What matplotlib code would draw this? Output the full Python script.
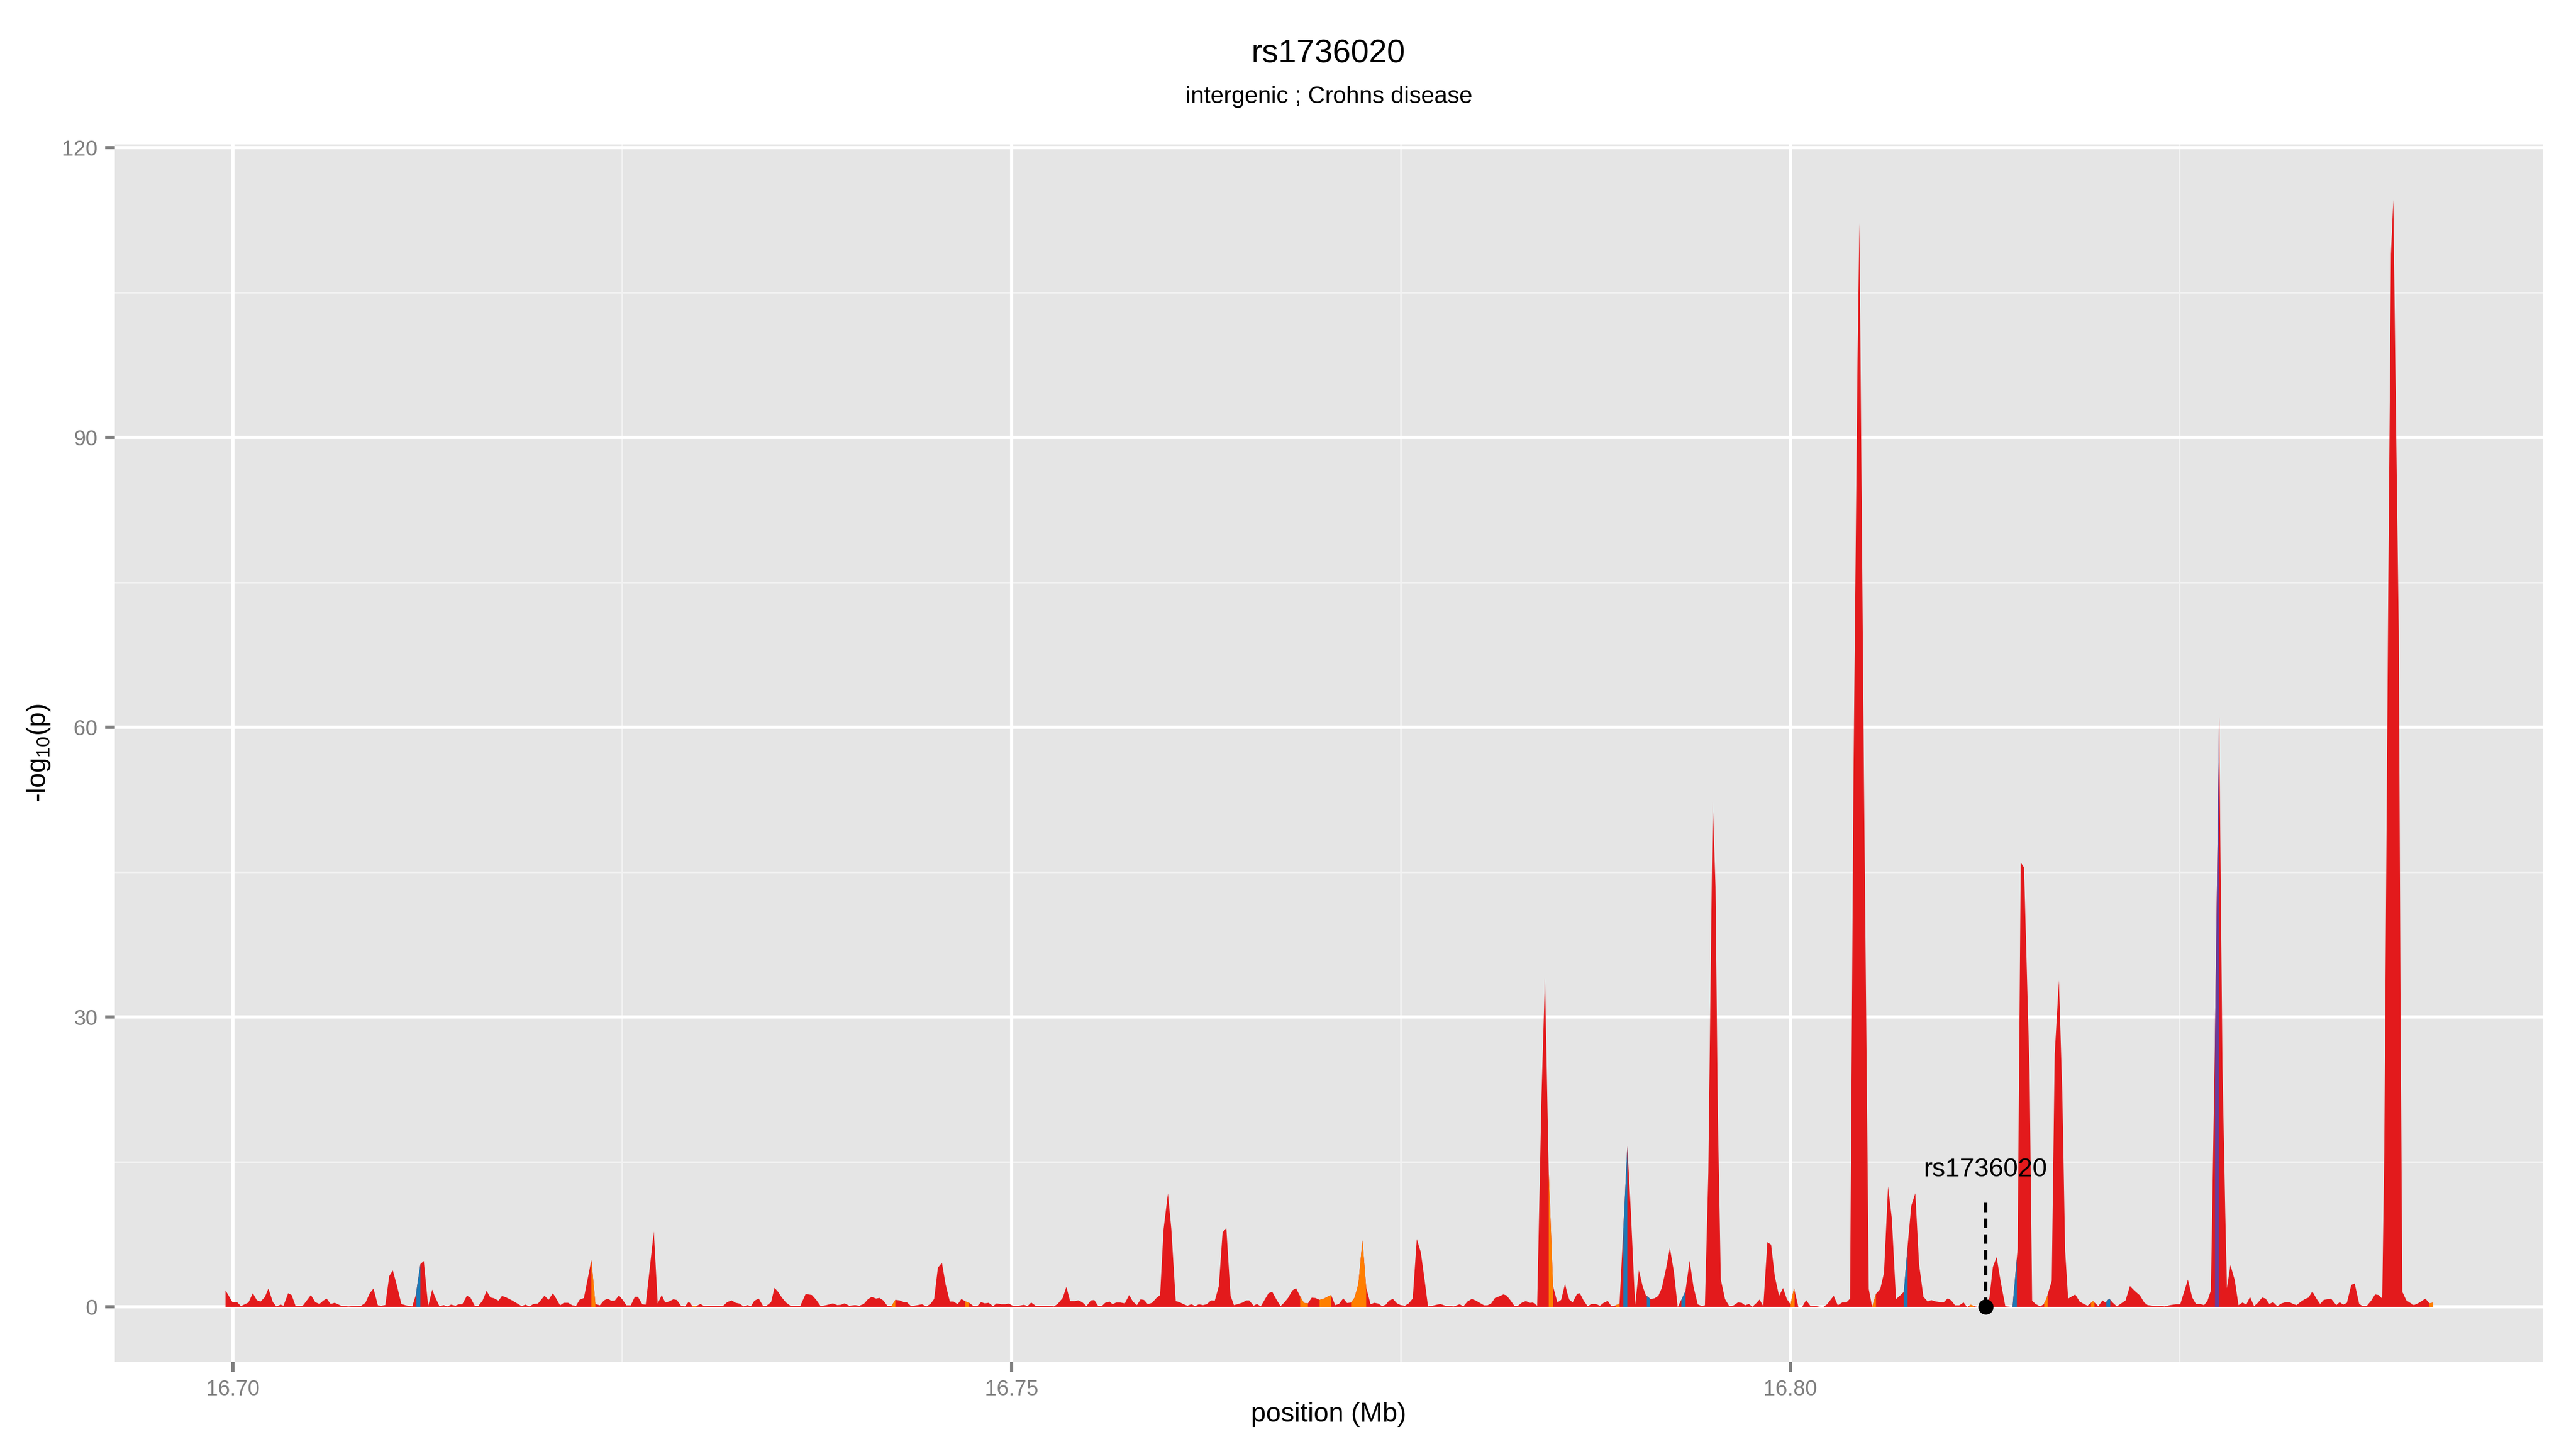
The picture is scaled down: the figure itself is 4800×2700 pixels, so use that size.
import numpy as np
import matplotlib
matplotlib.use('Agg')
import matplotlib.pyplot as plt

plt.rcParams['font.family'] = ['Liberation Sans', 'DejaVu Sans']
plt.rcParams['mathtext.fontset'] = 'custom'
plt.rcParams['mathtext.rm'] = 'Liberation Sans'
plt.rcParams['mathtext.it'] = 'Liberation Sans'

# --- data ---
title = "rs1736020"
subtitle = "intergenic ; Crohns disease"
lead_snp = "rs1736020"
lead_pos = 16.81255
lead_label_y = 14.2
lead_line_top = 11.4

# position (Mb) and -log10(p) of each SNP, left to right
position_mb = [
    16.69951, 16.69995, 16.70025, 16.70050, 16.70098, 16.70126, 16.70152, 16.70176, 16.70203, 16.70226,
    16.70255, 16.70277, 16.70305, 16.70323, 16.70353, 16.70375, 16.70401, 16.70434, 16.70449, 16.70499,
    16.70527, 16.70554, 16.70578, 16.70600, 16.70626, 16.70652, 16.70693, 16.70739, 16.70822, 16.70849,
    16.70877, 16.70901, 16.70929, 16.70951, 16.70977, 16.71002, 16.71025, 16.71052, 16.71080, 16.71108,
    16.71150, 16.71172, 16.71202, 16.71224, 16.71252, 16.71278, 16.71296, 16.71324, 16.71352, 16.71375,
    16.71399, 16.71427, 16.71449, 16.71471, 16.71501, 16.71523, 16.71551, 16.71575, 16.71601, 16.71627,
    16.71652, 16.71674, 16.71704, 16.71726, 16.71754, 16.71791, 16.71852, 16.71877, 16.71901, 16.71929,
    16.71957, 16.71999, 16.72025, 16.72053, 16.72077, 16.72099, 16.72123, 16.72151, 16.72178, 16.72202,
    16.72224, 16.72252, 16.72300, 16.72326, 16.72354, 16.72381, 16.72405, 16.72427, 16.72450, 16.72477,
    16.72501, 16.72525, 16.72553, 16.72579, 16.72599, 16.72627, 16.72649, 16.72701, 16.72726, 16.72752,
    16.72774,
    16.72797, 16.72827, 16.72849, 16.72877, 16.72901, 16.72926, 16.72950, 16.72974, 16.73000, 16.73024,
    16.73052, 16.73116, 16.73144, 16.73172, 16.73200, 16.73227, 16.73251, 16.73277, 16.73301, 16.73325,
    16.73347, 16.73375, 16.73403, 16.73425, 16.73454, 16.73476, 16.73499, 16.73523, 16.73550, 16.73578,
    16.73642, 16.73676, 16.73716, 16.73744, 16.73772, 16.73809, 16.73851, 16.73879, 16.73901, 16.73925,
    16.73956, 16.73993, 16.74021, 16.74049, 16.74076, 16.74100, 16.74128, 16.74150, 16.74174, 16.74200,
    16.74228, 16.74252, 16.74279, 16.74307, 16.74325, 16.74353, 16.74395, 16.74423, 16.74451, 16.74477,
    16.74501, 16.74525, 16.74551, 16.74575, 16.74602, 16.74626, 16.74652, 16.74676, 16.74704, 16.74726,
    16.74754, 16.74778, 16.74802, 16.74827, 16.74851, 16.74879, 16.74903, 16.74931, 16.74958, 16.74981,
    16.75005, 16.75045, 16.75078, 16.75101, 16.75124, 16.75152, 16.75230, 16.75270, 16.75294, 16.75326,
    16.75350, 16.75374, 16.75405, 16.75427, 16.75451, 16.75479, 16.75507, 16.75529, 16.75553, 16.75577,
    16.75599, 16.75627, 16.75647, 16.75669,
    16.75697, 16.75725, 16.75753, 16.75777, 16.75803, 16.75827, 16.75849, 16.75873, 16.75900, 16.75928,
    16.75952, 16.75974, 16.76002, 16.76024, 16.76052, 16.76076, 16.76103, 16.76127, 16.76153, 16.76177,
    16.76201, 16.76227, 16.76251, 16.76279, 16.76303, 16.76329, 16.76353, 16.76377, 16.76404, 16.76426,
    16.76454, 16.76482, 16.76504, 16.76524, 16.76552, 16.76574, 16.76598, 16.76626, 16.76648, 16.76672,
    16.76700, 16.76725, 16.76749, 16.76773, 16.76801, 16.76825, 16.76851, 16.76875, 16.76901, 16.76925,
    16.76949, 16.76976, 16.76998, 16.77026, 16.77050, 16.77076, 16.77100, 16.77128, 16.77152, 16.77178,
    16.77201, 16.77225, 16.77251, 16.77275, 16.77303, 16.77327, 16.77353, 16.77377, 16.77401, 16.77423,
    16.77447, 16.77473, 16.77497, 16.77524, 16.77548, 16.77574, 16.77600, 16.77626, 16.77648, 16.77672,
    16.77700, 16.77751, 16.77783, 16.77811, 16.77838, 16.77875, 16.77899, 16.77925, 16.77953, 16.77977,
    16.78004, 16.78032, 16.78054, 16.78078, 16.78102, 16.78128, 16.78156, 16.78176, 16.78202, 16.78226,
    16.78250, 16.78276, 16.78300, 16.78327, 16.78346, 16.78373, 16.78401, 16.78423, 16.78447, 16.78475,
    16.78503, 16.78527, 16.78552,
    16.78564, 16.78579, 16.78601, 16.78629, 16.78647, 16.78671, 16.78697, 16.78721, 16.78749, 16.78776,
    16.78800, 16.78826, 16.78850, 16.78878, 16.78902, 16.78924, 16.78952, 16.78974, 16.79002, 16.79026,
    16.79050, 16.79072, 16.79085, 16.79099, 16.79127, 16.79151, 16.79173, 16.79201, 16.79225, 16.79251,
    16.79275, 16.79302, 16.79325, 16.79352, 16.79376, 16.79404, 16.79428, 16.79450, 16.79472, 16.79500,
    16.79518, 16.79533, 16.79552, 16.79579, 16.79607, 16.79635, 16.79662, 16.79686, 16.79708, 16.79732,
    16.79755, 16.79782, 16.79801, 16.79825, 16.79851, 16.79875, 16.79899, 16.79926, 16.79952, 16.79976,
    16.80000, 16.80022, 16.80050, 16.80074, 16.80100, 16.80129, 16.80155, 16.80185, 16.80210, 16.80234,
    16.80277, 16.80303, 16.80332, 16.80358, 16.80382, 16.80404, 16.80430, 16.80442, 16.80471, 16.80502,
    16.80524, 16.80548, 16.80576, 16.80600, 16.80626, 16.80650, 16.80677, 16.80701, 16.80727, 16.80751,
    16.80775, 16.80801, 16.80825, 16.80853, 16.80880, 16.80904, 16.80932, 16.80958, 16.80982, 16.81010,
    16.81032, 16.81056, 16.81083, 16.81111, 16.81133, 16.81157, 16.81181, 16.81207, 16.81231, 16.81259,
    16.81277, 16.81299, 16.81323, 16.81351, 16.81379, 16.81425, 16.81458,
    16.81478, 16.81499, 16.81535, 16.81551, 16.81573, 16.81603, 16.81625, 16.81643, 16.81677, 16.81696,
    16.81723, 16.81745, 16.81763, 16.81782, 16.81828, 16.81856, 16.81883, 16.81907, 16.81942, 16.81976,
    16.82003, 16.82022, 16.82046, 16.82068, 16.82095, 16.82151, 16.82179, 16.82206, 16.82243, 16.82271,
    16.82293, 16.82326, 16.82354, 16.82382, 16.82400, 16.82437, 16.82474, 16.82502, 16.82551, 16.82579,
    16.82603, 16.82631, 16.82655, 16.82677, 16.82699, 16.82725, 16.82752, 16.82773, 16.82791, 16.82802,
    16.82824, 16.82852, 16.82876, 16.82902, 16.82926, 16.82950, 16.82976, 16.83000, 16.83028, 16.83050,
    16.83074, 16.83098, 16.83125, 16.83153, 16.83179, 16.83203, 16.83227, 16.83249, 16.83277, 16.83304,
    16.83326, 16.83350, 16.83378, 16.83400, 16.83424, 16.83448, 16.83470, 16.83504, 16.83526, 16.83548,
    16.83572, 16.83600, 16.83622, 16.83651, 16.83673, 16.83701, 16.83729, 16.83753, 16.83775, 16.83799,
    16.83812, 16.83838, 16.83855, 16.83870, 16.83885, 16.83905, 16.83917, 16.83928, 16.83954, 16.83978,
    16.84002, 16.84028, 16.84052, 16.84076, 16.84102, 16.84126,
]

log_p = [
    1.72, 0.50, 0.50, 0.09, 0.46, 1.43, 0.70, 0.56, 1.02, 1.91,
    0.50, 0.06, 0.24, 0.13, 1.43, 1.24, 0.09, 0.09, 0.17, 1.24,
    0.50, 0.31, 0.65, 0.87, 0.31, 0.43, 0.13, 0.06, 0.13, 0.43,
    1.43, 1.91, 0.17, 0.13, 0.20, 3.20, 3.79, 2.17, 0.31, 0.17,
    0.06, 1.20, 4.44, 4.76, 0.09, 1.80, 1.05, 0.09, 0.19, 0.06,
    0.24, 0.13, 0.28, 0.28, 1.17, 0.98, 0.13, 0.13, 0.65, 1.67,
    0.98, 0.91, 0.65, 1.15, 0.98, 0.68, 0.09, 0.24, 0.06, 0.31,
    0.35, 1.17, 0.74, 1.43, 0.80, 0.17, 0.43, 0.43, 0.17, 0.13,
    0.74, 0.93, 4.87, 0.31, 0.17, 0.68, 0.87, 0.65, 0.65, 1.20,
    0.74, 0.17, 0.17, 1.05, 1.05, 0.28, 0.24, 7.81, 0.37, 1.24,
    0.46,
    0.56, 0.80, 0.72, 0.09, 0.06, 0.56, 0.06, 0.09, 0.31, 0.09,
    0.13, 0.13, 0.09, 0.50, 0.68, 0.43, 0.35, 0.06, 0.19, 0.09,
    0.65, 0.87, 0.09, 0.13, 0.50, 1.98, 1.57, 0.98, 0.46, 0.13,
    0.13, 1.35, 1.24, 0.74, 0.09, 0.19, 0.37, 0.19, 0.22, 0.37,
    0.13, 0.19, 0.13, 0.31, 0.80, 1.05, 0.87, 0.94, 0.68, 0.13,
    0.13, 0.74, 0.68, 0.50, 0.50, 0.09, 0.19, 0.28, 0.06, 0.31,
    0.83, 4.07, 4.57, 2.31, 0.56, 0.56, 0.28, 0.83, 0.56, 0.43,
    0.09, 0.09, 0.50, 0.37, 0.43, 0.09, 0.37, 0.28, 0.28, 0.35,
    0.13, 0.13, 0.22, 0.09, 0.46, 0.13, 0.13, 0.06, 0.31, 0.93,
    2.09, 0.61, 0.61, 0.68, 0.50, 0.09, 0.68, 0.72, 0.13, 0.09,
    0.43, 0.56, 0.28, 0.46,
    0.46, 0.37, 1.24, 0.56, 0.19, 0.80, 0.72, 0.28, 0.43, 0.93,
    1.24, 8.05, 11.75, 8.05, 0.61, 0.50, 0.28, 0.13, 0.28, 0.09,
    0.28, 0.19, 0.28, 0.68, 0.65, 2.17, 7.72, 8.18, 1.17, 0.19,
    0.31, 0.46, 0.68, 0.68, 0.13, 0.31, 0.06, 0.83, 1.43, 1.57,
    0.74, 0.09, 0.46, 0.93, 1.72, 1.94, 1.11, 0.43, 0.37, 0.96,
    0.93, 0.74, 0.83, 1.05, 1.24, 0.19, 0.31, 0.89, 0.41, 0.46,
    0.98, 2.41, 6.90, 2.04, 0.28, 0.43, 0.35, 0.09, 0.24, 0.68,
    0.83, 0.37, 0.19, 0.13, 0.37, 0.87, 7.03, 5.65, 3.05, 0.06,
    0.13, 0.31, 0.13, 0.09, 0.06, 0.28, 0.06, 0.56, 0.83, 0.68,
    0.43, 0.17, 0.17, 0.37, 0.93, 1.09, 1.30, 1.20, 0.68, 0.13,
    0.13, 0.46, 0.61, 0.43, 0.46, 0.13, 22.0, 34.1, 14.0, 2.13,
    0.46, 0.74, 2.41,
    1.56, 0.77, 0.47, 1.36, 1.42, 0.67, 0.07, 0.31, 0.31, 0.13,
    0.43, 0.63, 0.07, 0.17, 0.37, 7.41, 16.63, 9.99, 0.17, 3.80,
    2.15, 1.16, 1.06, 0.82, 0.90, 1.16, 1.96, 4.02, 6.12, 3.64,
    0.00, 0.86, 1.66, 4.79, 2.15, 0.27, 0.11, 0.17, 13.95, 52.3,
    43.5, 19.9, 2.85, 0.82, 0.07, 0.17, 0.47, 0.43, 0.17, 0.31,
    0.03, 0.43, 0.77, 0.07, 6.71, 6.45, 3.14, 1.16, 1.96, 0.82,
    0.27, 1.96, 0.00, 0.00, 0.71, 0.07, 0.11, 0.03, 0.00, 0.27,
    1.16, 0.17, 0.47, 0.47, 0.86, 55.0, 98.0, 112.2, 55.0, 1.86,
    0.00, 1.36, 1.86, 3.54, 12.47, 9.19, 0.82, 1.16, 1.56, 6.22,
    10.48, 11.77, 4.43, 1.06, 0.57, 0.71, 0.57, 0.51, 0.47, 0.90,
    0.67, 0.17, 0.17, 0.47, 0.00, 0.23, 0.07, 0.00, 0.47, 0.47,
    0.96, 4.14, 5.17, 2.45, 0.07, 0.00, 6.02,
    46.0, 45.5, 24.0, 0.65, 0.31, 0.06, 0.28, 0.87, 2.72, 26.2,
    33.8, 22.0, 5.80, 0.87, 1.30, 0.56, 0.31, 0.13, 0.61, 0.09,
    0.68, 0.46, 0.87, 0.46, 0.06, 0.68, 2.17, 1.72, 1.20, 0.46,
    0.19, 0.13, 0.09, 0.13, 0.06, 0.19, 0.28, 0.28, 2.83, 0.98,
    0.31, 0.31, 0.19, 0.65, 1.72, 28.0, 61.1, 25.0, 9.80, 1.94,
    4.35, 2.78, 0.19, 0.46, 0.24, 1.05, 0.09, 0.43, 0.98, 0.87,
    0.31, 0.50, 0.09, 0.37, 0.50, 0.50, 0.31, 0.19, 0.56, 0.83,
    0.98, 1.61, 0.83, 0.31, 0.74, 0.80, 0.87, 0.19, 0.50, 0.24,
    0.43, 2.28, 2.44, 0.31, 0.09, 0.13, 0.68, 1.30, 1.24, 0.87,
    16.0, 75.0, 109.0, 114.6, 95.0, 70.0, 30.0, 1.57, 0.68, 0.43,
    0.19, 0.37, 0.61, 0.87, 0.37, 0.46,
]

# stretches of the track filled with another annotation class (Mb)
hl_start = [16.71176, 16.72300, 16.72950, 16.74228, 16.74700, 16.76851, 16.76976, 16.77178,
            16.78447, 16.78878, 16.78926, 16.79077, 16.79299, 16.80000, 16.80524, 16.80727,
            16.81148, 16.81425, 16.81629, 16.81929, 16.82027, 16.82725, 16.84102]
hl_end = [16.71202, 16.72326, 16.72974, 16.74252, 16.74726, 16.76901, 16.77050, 16.77275,
          16.78475, 16.78902, 16.78952, 16.79099, 16.79325, 16.80026, 16.80548, 16.80751,
          16.81176, 16.81453, 16.81651, 16.81951, 16.82053, 16.82751, 16.84126]
hl_class = ['blue', 'orange', 'orange', 'orange', 'orange', 'orange', 'orange', 'orange',
            'orange', 'orange', 'blue', 'blue', 'blue', 'orange', 'orange', 'blue',
            'orange', 'blue', 'orange', 'orange', 'blue', 'purple', 'orange']

class_colors = {'red': '#E31A1C', 'blue': '#1F78B4', 'orange': '#FF7F00', 'purple': '#6A3D9A'}

x_ticks = [16.70, 16.75, 16.80]
x_minor = [16.725, 16.775, 16.825]
y_ticks = [0, 30, 60, 90, 120]
y_minor = [15, 45, 75, 105]

pos = np.array(position_mb)
lp = np.array(log_p)

fig = plt.figure(figsize=(16, 9), dpi=300)
ax = fig.add_axes([0.0446, 0.0600, 0.9427, 0.8404])
ax.set_facecolor('#E5E5E5')

for v in x_minor:
    ax.axvline(v, color='#F2F2F2', lw=0.72, zorder=0)
for v in y_minor:
    ax.axhline(v, color='#F2F2F2', lw=0.72, zorder=0)
for v in x_ticks:
    ax.axvline(v, color='white', lw=1.42, zorder=0)
for v in y_ticks:
    ax.axhline(v, color='white', lw=1.42, zorder=0)

ax.fill_between(pos, 0, lp, color=class_colors['red'], lw=0, zorder=2)

for a, b, c in zip(hl_start, hl_end, hl_class):
    inside = (pos > a) & (pos < b)
    xs = np.concatenate([[a], pos[inside], [b]])
    ys = np.interp(xs, pos, lp)
    ax.fill_between(xs, 0, ys, color=class_colors[c], lw=0, zorder=3)

# lead SNP marker
ax.plot([lead_pos, lead_pos], [0, lead_line_top], color='black', lw=1.5,
        dashes=(2.8, 1.9), zorder=4)
ax.plot([lead_pos], [0], 'o', color='black', ms=5.8, zorder=5)
ax.text(lead_pos, lead_label_y, lead_snp, ha='center', va='center', fontsize=11.7,
        color='black', zorder=5)

xmin, xmax = pos.min(), pos.max()
xpad = (xmax - xmin) * 0.05
ax.set_xlim(xmin - xpad, xmax + xpad)
ypad = lp.max() * 0.05
ax.set_ylim(-ypad, lp.max() + ypad)

ax.set_xticks(x_ticks)
ax.set_xticklabels([f"{v:.2f}" for v in x_ticks])
ax.set_yticks(y_ticks)
ax.set_yticklabels([str(v) for v in y_ticks])
ax.tick_params(axis='both', length=4.3, width=1.42, color='#7F7F7F',
               labelcolor='#7F7F7F', labelsize=9.6, pad=3.5)
for s in ax.spines.values():
    s.set_visible(False)

fig.text(0.5158, 0.9626, title, ha='center', va='center', fontsize=14.6)
fig.text(0.5158, 0.9330, subtitle, ha='center', va='center', fontsize=10.6)
fig.text(0.5158, 0.0237, 'position (Mb)', ha='center', va='center', fontsize=12)
fig.text(0.015, 0.4804, '-log$_{10}$(p)', ha='center', va='center', fontsize=12,
         rotation=90)

fig.savefig('out.png', dpi=300)
